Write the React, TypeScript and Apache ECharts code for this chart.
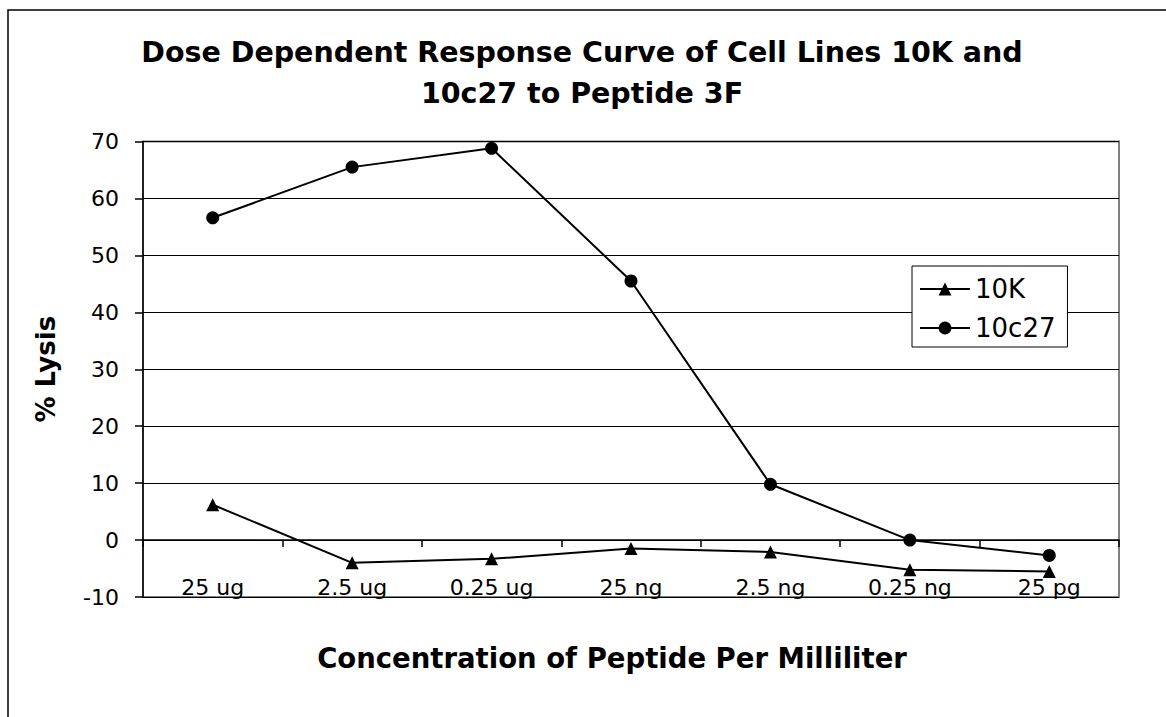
import React, { useEffect, useRef } from "react";
import * as echarts from "echarts";

const categories = ["25 ug", "2.5 ug", "0.25 ug", "25 ng", "2.5 ng", "0.25 ng", "25 pg"];
const series10K = [6.2, -4.0, -3.3, -1.5, -2.1, -5.2, -5.5];
const series10c27 = [56.6, 65.5, 68.8, 45.5, 9.8, 0, -2.7];
const yTicks = { min: -10, max: 70, interval: 10 };
const titleText = "Dose Dependent Response Curve of Cell Lines 10K and\n10c27 to Peptide 3F";
const xTitle = "Concentration of Peptide Per Milliliter";
const yTitle = "% Lysis";

const FONT = "DejaVu Sans";

export default function App() {
  const ref = useRef<HTMLDivElement>(null);
  useEffect(() => {
    if (!ref.current) return;
    const chart = echarts.init(ref.current, null, { renderer: "svg" });
    chart.setOption({
      animation: false,
      backgroundColor: "#ffffff",
      grid: {
        left: 143,
        right: 47,
        top: 141.5,
        bottom: 120,
        show: true,
        borderColor: "#808080",
        borderWidth: 2,
        backgroundColor: "#fff",
      },
      legend: {
        orient: "vertical",
        left: 912,
        top: 266,
        padding: [10, 12, 6, 7],
        itemGap: 13,
        itemWidth: 50,
        itemHeight: 16,
        backgroundColor: "#fff",
        borderColor: "#000",
        borderWidth: 1,
        textStyle: { fontFamily: FONT, fontSize: 26, color: "#000" },
        data: ["10K", "10c27"],
      },
      xAxis: {
        type: "category",
        data: categories,
        boundaryGap: true,
        axisLine: { onZero: true, lineStyle: { color: "#000", width: 1.5 } },
        axisTick: { show: true, length: 7, lineStyle: { color: "#000", width: 1.5 } },
        axisLabel: { fontFamily: FONT, fontSize: 22, color: "#000", margin: -21 },
        splitLine: { show: false },
      },
      yAxis: {
        type: "value",
        min: yTicks.min,
        max: yTicks.max,
        interval: yTicks.interval,
        name: yTitle,
        nameLocation: "middle",
        nameGap: 84,
        nameRotate: 90,
        nameTextStyle: { fontFamily: FONT, fontSize: 26, fontWeight: "bold", color: "#000" },
        axisLine: { show: true, lineStyle: { color: "#000", width: 1.5 } },
        axisTick: { show: true, length: 8, lineStyle: { color: "#000", width: 1.5 } },
        axisLabel: { fontFamily: FONT, fontSize: 22, color: "#000", margin: 24 },
        splitLine: { show: true, lineStyle: { color: "#000", width: 1 } },
      },
      graphic: [
        {
          type: "rect",
          silent: true,
          z: -10,
          shape: { x: 8, y: 10, width: 1200, height: 760 },
          style: { fill: "none", stroke: "#000", lineWidth: 1.5 },
        },
        {
          type: "text",
          x: 582,
          y: 73,
          style: {
            text: titleText,
            fontFamily: FONT,
            fontSize: 28.5,
            fontWeight: "bold",
            lineHeight: 41,
            fill: "#000",
            textAlign: "center",
            textVerticalAlign: "middle",
          },
        },
        {
          type: "text",
          x: 612,
          y: 658,
          style: {
            text: xTitle,
            fontFamily: FONT,
            fontSize: 27.5,
            fontWeight: "bold",
            fill: "#000",
            textAlign: "center",
            textVerticalAlign: "middle",
          },
        },
      ],
      series: [
        {
          name: "10K",
          type: "line",
          data: series10K,
          symbol: "triangle",
          symbolSize: 13,
          lineStyle: { color: "#000", width: 2 },
          itemStyle: { color: "#000" },
        },
        {
          name: "10c27",
          type: "line",
          data: series10c27,
          symbol: "circle",
          symbolSize: 13,
          lineStyle: { color: "#000", width: 2 },
          itemStyle: { color: "#000" },
        },
      ],
    });
    return () => chart.dispose();
  }, []);
  return (
    <div
      ref={ref}
      style={{ position: "fixed", left: 0, top: 0, width: 1166, height: 717 }}
    />
  );
}
